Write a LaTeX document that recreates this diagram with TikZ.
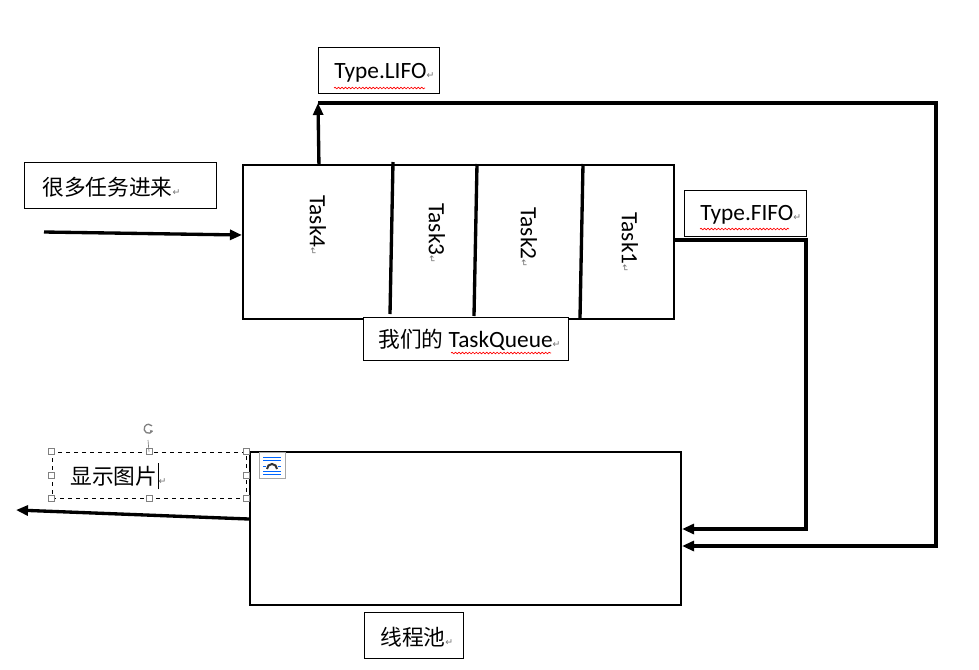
\documentclass[tikz,border=0pt]{standalone}
\usepackage{fontspec}
\setmainfont{Carlito}
\newfontfamily\cjk{Noto Sans CJK SC}
\newfontfamily\djv{DejaVu Sans}
\usetikzlibrary{arrows.meta,decorations.pathmorphing,fit}
\newcommand\pmark{{\djv\fontsize{7}{7}\selectfont\color{gray!90!black}↵}}
\newcommand\wcursor{\kern0.5pt\rule[-4pt]{0.6pt}{20pt}}
\begin{document}
\begin{tikzpicture}[x=0.75pt,y=-0.75pt,
  box/.style={draw, line width=0.7pt, inner sep=0pt},
  frame/.style={draw, line width=1.6pt, inner sep=0pt},
  conn/.style={line width=2.5pt},
  arr/.style={conn,-{Triangle[length=9pt,width=7.5pt]}},
  lbl/.style={anchor=west, inner sep=0pt, font=\fontsize{17.5}{20}\selectfont},
  cjklbl/.style={anchor=west, inner sep=0pt, font=\cjk\fontsize{16.3}{19}\selectfont},
  tasklbl/.style={anchor=west, rotate=-90, inner sep=0pt, font=\fontsize{17.5}{20}\selectfont},
  squig/.style={red, line width=0.5pt, decorate, decoration={snake, amplitude=0.6pt, segment length=2.6pt}},
  handle/.style={draw=gray, fill=white, line width=0.5pt, minimum size=4.5pt, inner sep=0pt}
]
\useasboundingbox (0,0) rectangle (979,669);

% main frames
\node[frame, fit={(243,165)(674,319)}] (queue) {};
\node[frame, fit={(250,452)(681,605)}] (pool) {};

% queue dividers
\draw[conn] (393,162) -- (390,314);
\draw[conn] (477,164) -- (474,316);
\draw[conn] (583,164) -- (580,318);

% task labels
\node[tasklbl] (t4) at (318,195) {Task4\pmark};
\node[tasklbl] (t3) at (437,203) {Task3\pmark};
\node[tasklbl] (t2) at (529,207) {Task2\pmark};
\node[tasklbl] (t1) at (630,212) {Task1\pmark};

% text boxes
\node[box, fill=white, fit={(318,47)(439,93)}] (lifo) {};
\node[lbl] (lifot) at (334,73) {Type.LIFO\pmark};
\draw[squig] (334,88) -- (425,88);

\node[box, fill=white, fit={(684,190)(806,236)}] (fifo) {};
\node[lbl] (fifot) at (700,215) {Type.FIFO\pmark};
\draw[squig] (700,229) -- (789,229);

\node[box, fill=white, fit={(363,317)(568,360)}] (tq) {};
\node[lbl] (tqt) at (378,340) {{\cjk\fontsize{16.3}{19}\selectfont 我们的} TaskQueue\pmark};
\draw[squig] (451,353) -- (551,353);

\node[box, fit={(24,162)(216,208)}] (many) {};
\node[cjklbl] (manyt) at (42,187) {很多任务进来\pmark};

\node[box, fit={(364,612)(463,658)}] (poolname) {};
\node[cjklbl] (poolt) at (380,637) {线程池\pmark};

% selected text box (Word UI)
\node[draw, dashed, line width=0.5pt, fit={(52,452)(246,498)}, inner sep=0pt] (show) {};
\node[cjklbl] (showt) at (70,476) {显示图片\wcursor\pmark};
\foreach \p in {north west,north,north east,east,south east,south,south west,west}
  \node[handle] at (show.\p) {};
\draw[gray, line width=0.5pt] (148,440) -- (show.north);
\draw[gray, line width=1pt] (152.5,431) arc (30:320:4.5);
\draw[gray, line width=0.6pt, -{Stealth[length=2.5pt]}] (150,431) -- (153,431);
% layout options icon
\node[draw=gray!70, fill=white, line width=0.5pt, fit={(259,452)(285,478)}, inner sep=0pt] (icon) {};
\foreach \yy in {457,460,471,474}
  \draw[blue!60!cyan, line width=0.6pt] (263,\yy) -- (281,\yy);
\draw[blue!60!cyan, line width=0.6pt] (263,466) -- (266,466) (278,466) -- (281,466);
\draw[black!80, line width=1.5pt] (267,469) arc (180:360:5);

% connectors
\coordinate (inS) at (44,232);
\draw[arr] (inS) -- (queue.west |- 0,235);

\coordinate (lifoTip) at (318,103);
\draw[arr] (queue.north west) ++(77,0) coordinate (lifoS) -- (lifoTip);
\coordinate (lifoR) at (936,103);
\draw[arr] (lifoTip) -- (lifoR) |- (pool.east |- 0,546);

\coordinate (fifoR) at (806,240);
\draw[arr] (queue.east |- 0,240) -- (fifoR) |- (pool.east |- 0,529);

\coordinate (outE) at (16,510);
\draw[arr] (pool.west |- 0,519) -- (outE);
\end{tikzpicture}
\end{document}
